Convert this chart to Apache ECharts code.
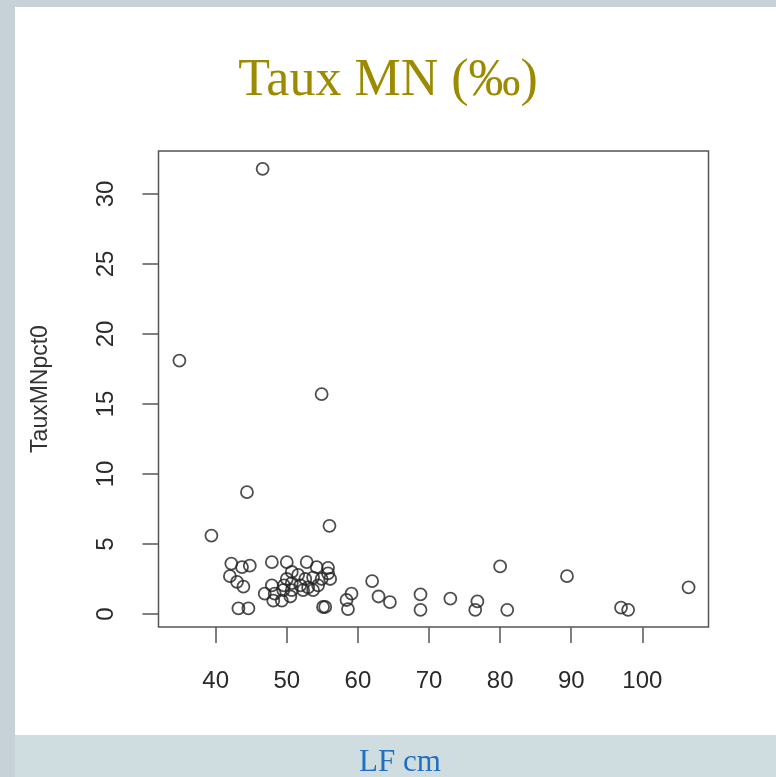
<!DOCTYPE html>
<html>
<head>
<meta charset="utf-8">
<script src="https://cdn.jsdelivr.net/npm/echarts@6/dist/echarts.min.js"></script>
<style>
html,body{margin:0;padding:0;background:#c6d1d8;}
#chart{width:776px;height:777px;}
</style>
</head>
<body>
<div id="chart"></div>
<script>
// LF cm (x) and TauxMNpct0 (y)
const lfCm = [
  46.6, 34.9, 54.9, 44.4, 39.4, 56.0, 80.0, 89.4, 106.5, 97.0, 98.0, 76.8, 76.5, 81.0, 73.0, 68.8, 68.8, 64.5, 62.9, 62.0, 59.1, 58.4, 58.6,
  42.2, 43.7, 44.8, 42.0, 43.0, 43.9, 43.2, 44.6,
  47.9, 50.0, 52.8, 54.2, 55.8, 55.8, 50.7, 51.6, 50.0, 52.6, 53.7, 54.9, 56.1, 47.9, 49.6, 51.9, 53.0, 54.4,
  46.9, 48.3, 49.5, 50.7, 52.3, 53.7, 48.1, 49.3, 50.5, 50.7, 55.1, 55.4
];
const tauxMN = [
  31.8, 18.1, 15.7, 8.7, 5.6, 6.3, 3.4, 2.7, 1.9, 0.45, 0.3, 0.9, 0.3, 0.3, 1.1, 1.4, 0.3, 0.85, 1.25, 2.35, 1.45, 1.0, 0.35,
  3.6, 3.35, 3.45, 2.7, 2.3, 1.95, 0.4, 0.4,
  3.7, 3.7, 3.7, 3.35, 3.3, 2.9, 3.0, 2.8, 2.5, 2.5, 2.6, 2.5, 2.5, 2.05, 2.05, 2.05, 1.9, 2.05,
  1.45, 1.45, 1.7, 1.7, 1.7, 1.7, 0.95, 0.95, 1.25, 2.2, 0.5, 0.5
];
const xTicks = [40, 50, 60, 70, 80, 90, 100];
const yTicks = [0, 5, 10, 15, 20, 25, 30];
const titleText = 'Taux MN (‰)';
const xName = 'LF cm';
const yName = 'TauxMNpct0';

const points = lfCm.map((v, i) => [v, tauxMN[i]]);

const chart = echarts.init(document.getElementById('chart'), null, {renderer: 'canvas'});
chart.setOption({
  backgroundColor: '#c6d1d8',
  animation: false,
  graphic: [
    {type: 'rect', left: 15, top: 7, shape: {width: 761, height: 728}, style: {fill: '#ffffff'}, z: -10, silent: true},
    {type: 'rect', left: 15, top: 735, shape: {width: 761, height: 42}, style: {fill: '#d0dde0'}, z: -10, silent: true}
  ],
  title: [
    {text: titleText, left: 'center', top: 50,
     textStyle: {fontFamily: 'Liberation Serif', fontSize: 52, fontWeight: 'normal', color: '#9c8a00'}},
    {text: xName, left: 354, top: 742,
     textStyle: {fontFamily: 'Liberation Serif', fontSize: 31, fontWeight: 'normal', color: '#1f70c0'}}
  ],
  grid: {left: 158.5, top: 151, width: 550, height: 476, show: true, borderColor: '#555', borderWidth: 1.5, containLabel: false},
  xAxis: {
    type: 'value', min: 31.96, max: 109.3,
    axisLine: {show: false, onZero: false},
    splitLine: {show: false},
    axisTick: {show: true, inside: false, length: 16, customValues: xTicks, lineStyle: {color: '#555', width: 1.5}},
    axisLabel: {customValues: xTicks, margin: 42, fontFamily: 'Liberation Sans', fontSize: 24, color: '#2a2a2a'}
  },
  yAxis: {
    type: 'value', min: -0.93, max: 33.07,
    name: yName, nameLocation: 'middle', nameRotate: 90, nameGap: 106,
    nameTextStyle: {fontFamily: 'Liberation Sans', fontSize: 23, color: '#333'},
    axisLine: {show: false, onZero: false},
    splitLine: {show: false},
    axisTick: {show: true, inside: false, length: 16, customValues: yTicks, lineStyle: {color: '#555', width: 1.5}},
    axisLabel: {customValues: yTicks, rotate: 90, margin: 40, fontFamily: 'Liberation Sans', fontSize: 24, color: '#2a2a2a'}
  },
  series: [{
    type: 'scatter',
    data: points,
    symbol: 'circle',
    symbolSize: 12,
    itemStyle: {color: 'rgba(0,0,0,0)', borderColor: '#222', borderWidth: 1.8}
  }]
});
</script>
</body>
</html>
